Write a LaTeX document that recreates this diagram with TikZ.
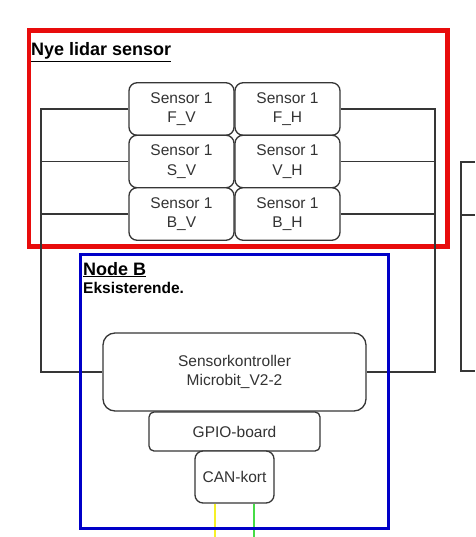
\documentclass[tikz,border=0pt]{standalone}
\usepackage{fontspec}
\setmainfont{Liberation Sans}
\usepackage{xcolor}
\usepackage{tikz}
\definecolor{boxline}{RGB}{54,54,54}
\definecolor{boxtext}{RGB}{51,51,51}
\definecolor{framered}{RGB}{232,12,12}
\definecolor{frameblue}{RGB}{0,0,200}
\definecolor{canhi}{RGB}{246,240,40}
\definecolor{canlo}{RGB}{70,220,70}

\begin{document}
\begin{tikzpicture}[inner sep=0pt,
  unit/.style={shape=rectangle, draw=boxline, line width=1.3pt, fill=white, rounded corners=8pt, align=center, text=boxtext, font=\fontsize{15.5}{19.7}\selectfont},
  sensorbox/.style={unit, minimum width=105pt, minimum height=52.5pt},
  wire/.style={draw=boxline, line width=1.3pt},
  frame/.style={shape=rectangle, draw, fill=none},
  heading/.style={anchor=base west, font=\bfseries\fontsize{18}{20}\selectfont}]
\useasboundingbox (0pt,0pt) rectangle (475pt,-537pt);

\node (lidar) [frame, draw=framered, line width=4.5pt, minimum width=418.5pt, minimum height=216pt, at={(238.25pt,-138.5pt)}] {};
\node (lidartitle) [heading, at={(31pt,-56pt)}] {\underline{Nye lidar sensor}};

\node (fv) [sensorbox, at={(181.5pt,-109pt)}] {Sensor 1\\F\_V};
\node (fh) [sensorbox, at={(287.5pt,-109pt)}] {Sensor 1\\F\_H};
\node (sv) [sensorbox, at={(181.5pt,-161.5pt)}] {Sensor 1\\S\_V};
\node (vh) [sensorbox, at={(287.5pt,-161.5pt)}] {Sensor 1\\V\_H};
\node (bv) [sensorbox, at={(181.5pt,-214pt)}] {Sensor 1\\B\_V};
\node (bh) [sensorbox, at={(287.5pt,-214pt)}] {Sensor 1\\B\_H};

\node (ctrl) [unit, rounded corners=12pt, minimum width=263pt, minimum height=78pt, at={(234.5pt,-372pt)}] {Sensorkontroller\\Microbit\_V2-2};
\node (gpio) [unit, rounded corners=5pt, minimum width=171pt, minimum height=39pt, at={(234.5pt,-431.5pt)}] {GPIO-board};
\node (can) [unit, minimum width=79pt, minimum height=52pt, at={(234.5pt,-477pt)}] {CAN-kort};

\coordinate (lbus) at (41pt,-109pt);
\coordinate (rbus) at (435pt,-109pt);
\coordinate (nexttop) at (461pt,-162pt);
\coordinate (nextedge) at (475pt,-215pt);
\coordinate (nextlow) at (475pt,-371pt);
\coordinate (canhiend) at (215pt,-537pt);
\coordinate (canloend) at (254pt,-537pt);

% sensorbuss venstre
\path [wire] (fv.west) -- (lbus) |- (ctrl.west);
\path [wire] (sv.west) -- (sv.west -| lbus);
\path [wire] (bv.west) -- (bv.west -| lbus);

% sensorbuss hoyre
\path [wire] (fh.east) -- (rbus) |- (ctrl.east);
\path [wire] (vh.east) -- (vh.east -| rbus);
\path [wire] (bh.east) -- (bh.east -| rbus);

% neste node
\path [wire] (nexttop -| nextedge) -- (nexttop) |- (nextlow);
\path [wire] (nextedge -| nexttop) -- (nextedge);

% CAN-buss
\path [draw=canhi, line width=1.6pt] (can.south -| canhiend) -- (canhiend);
\path [draw=canlo, line width=1.6pt] (can.south -| canloend) -- (canloend);

\node (nodeb) [frame, draw=frameblue, line width=3pt, minimum width=308pt, minimum height=273.5pt, at={(234.5pt,-391.25pt)}] {};
\node (nodebtitle) [heading, at={(83pt,-275pt)}] {\underline{Node B}};
\node (nodebnote) [heading, font=\bfseries\fontsize{15.5}{18}\selectfont, at={(83pt,-293.3pt)}] {Eksisterende.};
\end{tikzpicture}
\end{document}
